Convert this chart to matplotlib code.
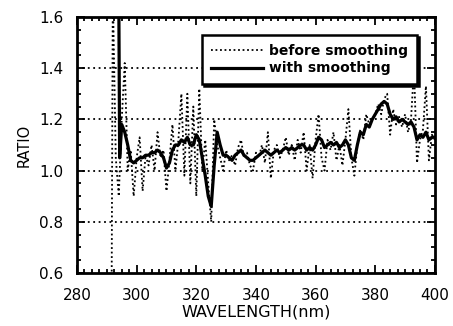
import numpy as np
import matplotlib
matplotlib.use("Agg")
import matplotlib.pyplot as plt
from matplotlib.ticker import MultipleLocator

# ---- data ----
raw_wl = [291.6] + list(range(292, 401))
raw_ratio = [0.50,
    1.70, 1.05, 0.90, 1.20, 1.42, 1.00, 1.08, 0.90, 1.05, 1.13,   # 292-301
    0.92, 1.06, 1.02, 1.10, 1.00, 1.15, 1.05, 1.08, 0.92, 1.04,   # 302-311
    1.18, 1.00, 1.12, 1.30, 0.98, 1.30, 0.95, 1.25, 0.90, 1.32,   # 312-321
    1.00, 1.12, 0.95, 0.80, 1.20, 1.10, 1.05, 1.00, 1.08, 1.04,   # 322-331
    1.06, 1.02, 1.09, 1.12, 1.05, 1.07, 1.02, 1.00, 1.07, 1.05,   # 332-341
    1.10, 1.03, 1.15, 0.97, 1.08, 1.10, 1.05, 1.08, 1.13, 1.06,   # 342-351
    1.10, 1.04, 1.12, 1.07, 1.15, 1.00, 1.10, 0.97, 1.12, 1.22,   # 352-361
    1.05, 1.00, 1.12, 1.08, 1.15, 1.04, 1.10, 1.02, 1.12, 1.24,   # 362-371
    1.05, 0.98, 1.10, 1.16, 1.12, 1.22, 1.18, 1.20, 1.22, 1.26,   # 372-381
    1.22, 1.28, 1.30, 1.14, 1.24, 1.18, 1.21, 1.17, 1.22, 1.15,   # 382-391
    1.20, 1.40, 1.03, 1.12, 1.16, 1.33, 1.04, 1.14, 1.12]         # 392-400

smooth_wl = [294.0, 294.3] + list(range(295, 401))
smooth_ratio = [1.70, 1.05,
    1.18, 1.15, 1.10, 1.04, 1.03, 1.04, 1.05, 1.05, 1.06, 1.06,   # 295-304
    1.07, 1.07, 1.08, 1.07, 1.05, 1.01, 1.03, 1.08, 1.10, 1.10,   # 305-314
    1.12, 1.11, 1.13, 1.10, 1.10, 1.14, 1.12, 1.05, 0.98, 0.90,   # 315-324
    0.86, 1.02, 1.15, 1.10, 1.06, 1.06, 1.05, 1.04, 1.06, 1.07,   # 325-334
    1.08, 1.06, 1.05, 1.04, 1.04, 1.05, 1.06, 1.07, 1.08, 1.07,   # 335-344
    1.06, 1.07, 1.08, 1.07, 1.08, 1.09, 1.08, 1.09, 1.08, 1.09,   # 345-354
    1.10, 1.10, 1.08, 1.09, 1.08, 1.10, 1.13, 1.12, 1.09, 1.10,   # 355-364
    1.11, 1.10, 1.11, 1.09, 1.10, 1.12, 1.10, 1.05, 1.04, 1.10,   # 365-374
    1.15, 1.14, 1.18, 1.17, 1.20, 1.22, 1.24, 1.26, 1.27, 1.26,   # 375-384
    1.22, 1.20, 1.21, 1.19, 1.20, 1.19, 1.18, 1.19, 1.17, 1.12,   # 385-394
    1.14, 1.13, 1.15, 1.12, 1.13, 1.13]                           # 395-400

x_ticks = [280, 300, 320, 340, 360, 380, 400]
y_ticks = [0.6, 0.8, 1.0, 1.2, 1.4, 1.6]
y_grid = [0.8, 1.0, 1.2, 1.4]

plt.rcParams['font.family'] = ['DejaVu Sans']

fig = plt.figure(figsize=(4.53, 3.26), dpi=100)
ax = fig.add_axes([0.170, 0.1626, 0.790, 0.7854])

for g in y_grid:
    ax.axhline(g, color='black', linestyle=(0, (1, 2)), linewidth=1.3, zorder=1)

ax.plot(raw_wl, raw_ratio, color='black', linestyle=(0, (1, 1.5)), linewidth=1.3,
        label='before smoothing', zorder=2)
ax.plot(smooth_wl, smooth_ratio, color='black', linestyle='-', linewidth=2.3,
        label='with smoothing', zorder=3)

ax.set_xlim(280, 400)
ax.set_ylim(0.6, 1.6)
ax.set_xticks(x_ticks)
ax.set_yticks(y_ticks)
ax.set_yticklabels([f"{v:.1f}" for v in y_ticks])
ax.xaxis.set_minor_locator(MultipleLocator(2.5))
ax.yaxis.set_minor_locator(MultipleLocator(0.05))
ax.tick_params(which='both', direction='in', top=True, right=True, width=1.3,
               labelsize=11, colors='black')
ax.tick_params(which='major', length=6)
ax.tick_params(axis='x', which='major', pad=11)
ax.tick_params(axis='y', which='major', pad=10)
ax.tick_params(which='minor', length=3)
for s in ax.spines.values():
    s.set_linewidth(2)

ax.set_xlabel('WAVELENGTH(nm)', fontsize=11.5, labelpad=1)
ax.set_ylabel('RATIO', fontsize=10.5, labelpad=5)

leg = ax.legend(loc='upper right', bbox_to_anchor=(0.95, 0.93), fontsize=10,
                frameon=True, fancybox=False, handlelength=3.7, borderpad=0.65,
                labelspacing=0.25, handletextpad=0.45, borderaxespad=0,
                shadow={'color': 'black', 'alpha': 1, 'ox': 1.5, 'oy': -1.5})
leg.get_frame().set_edgecolor('black')
leg.get_frame().set_linewidth(1.8)
for t in leg.get_texts():
    t.set_fontweight('bold')

fig.savefig('out.png', dpi=100)
